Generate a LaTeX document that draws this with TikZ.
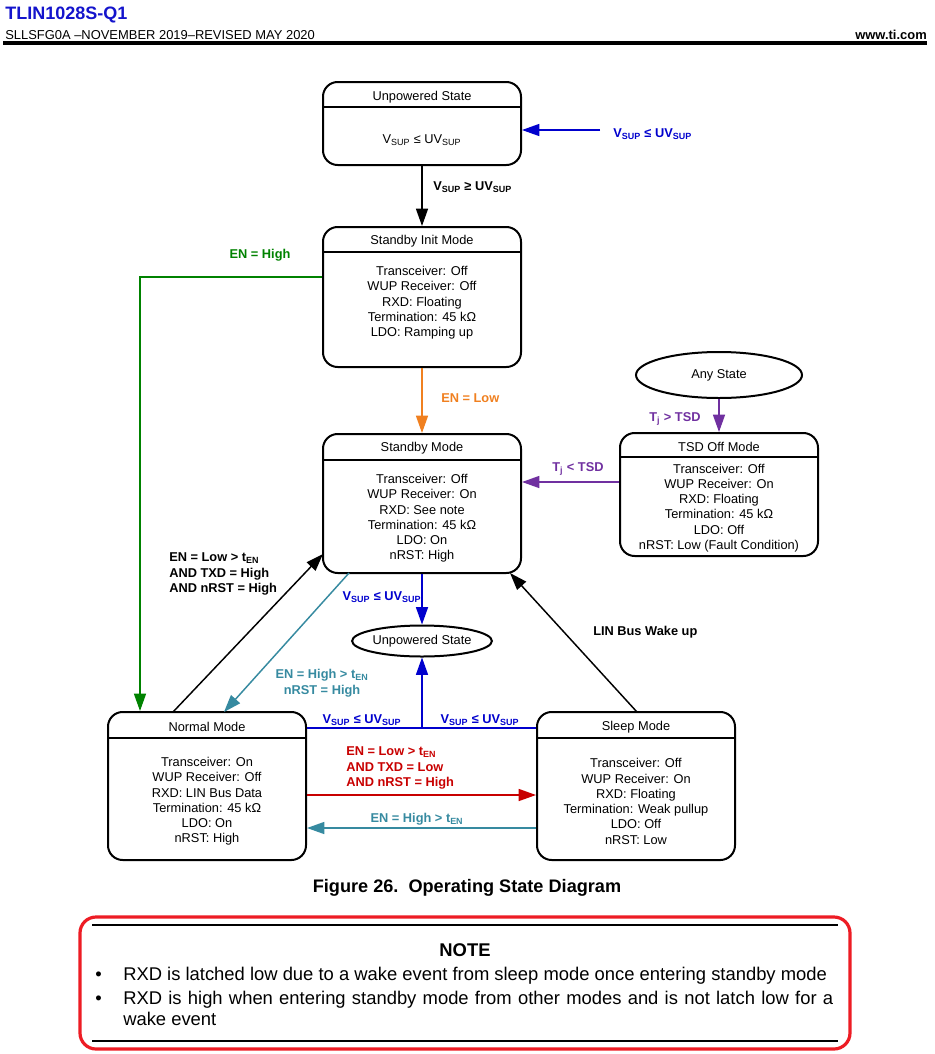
\documentclass[tikz,border=0pt]{standalone}
\usepackage{fontspec}
\setmainfont{Liberation Sans}
\usetikzlibrary{arrows.meta,shapes.geometric,calc}
\definecolor{tititle}{RGB}{20,20,204}
\definecolor{tiblue}{RGB}{0,0,205}
\definecolor{tiorange}{RGB}{240,128,32}
\definecolor{tigreen}{RGB}{0,130,0}
\definecolor{tipurple}{RGB}{112,48,160}
\definecolor{titeal}{RGB}{54,138,160}
\definecolor{tired}{RGB}{200,0,0}
\definecolor{notered}{RGB}{237,28,36}
\newcommand\sbs[1]{\textsubscript{#1}}
\begin{document}
\begin{tikzpicture}[x=0.75pt,y=-0.75pt,
  box/.style={draw, line width=1.5pt, rounded corners=11pt, inner sep=0pt, minimum width=148.5pt},
  sep/.style={line width=1.5pt},
  ttl/.style={font=\fontsize{9.6}{11.5}\selectfont, inner sep=0pt, yshift=-1.4pt},
  body/.style={font=\fontsize{9.6}{11.45}\selectfont, align=center, inner sep=0pt, yshift=-1.4pt},
  lbl/.style={font=\fontsize{9.6}{11.6}\selectfont\bfseries, inner sep=0pt, yshift=-0.8pt},
  ell/.style={draw, ellipse, line width=1.5pt, inner sep=0pt, font=\fontsize{9.6}{11.5}\selectfont},
  arr/.style={line width=1.1pt, -{Triangle[length=13pt,width=9pt]}},
  ln/.style={line width=1.1pt},
  notefont/.style={font=\fontsize{13.8}{15.75}\selectfont, inner sep=0pt}
]
\useasboundingbox (0,0) rectangle (935,1054);

% header
\node[anchor=base west, font=\fontsize{13.5}{16}\selectfont\bfseries, text=tititle, inner sep=0pt] (hdr) at (5,19) {TLIN1028S-Q1};
\node[anchor=base west, font=\fontsize{9.7}{12}\selectfont, inner sep=0pt] (doc) at (5,39) {SLLSFG0A –NOVEMBER 2019–REVISED MAY 2020};
\node[anchor=base east, font=\fontsize{9.7}{12}\selectfont\bfseries, inner sep=0pt] (www) at (927,39) {www.ti.com};
\draw[line width=2.4pt] (3,43) -- (927,43);

% Unpowered state (top)
\node[box, minimum height=62.25pt] (up1) at (422,123.5) {};
\draw[sep] (up1.west |- 0,107) -- (up1.east |- 0,107);
\node[ttl] (up1t) at (422,95) {Unpowered State};
\node[body] (up1b) at (422,138) {V\sbs{SUP} ≤ UV\sbs{SUP}};

% Standby init
\node[box, minimum height=105pt] (init) at (422,297) {};
\draw[sep] (init.west |- 0,252) -- (init.east |- 0,252);
\node[ttl] (initt) at (422,239) {Standby Init Mode};
\node[body] (initb) at (422,301) {Transceiver: Off\\WUP Receiver: Off\\RXD: Floating\\Termination: 45 kΩ\\LDO: Ramping up};

% Standby
\node[box, minimum height=104.25pt] (stby) at (422,503.5) {};
\draw[sep] (stby.west |- 0,460) -- (stby.east |- 0,460);
\node[ttl] (stbyt) at (422,446) {Standby Mode};
\node[body] (stbyb) at (422,516.5) {Transceiver: Off\\WUP Receiver: On\\RXD: See note\\Termination: 45 kΩ\\LDO: On\\nRST: High};

% TSD off
\node[box, minimum height=92.25pt] (tsd) at (719,494.5) {};
\draw[sep] (tsd.west |- 0,457) -- (tsd.east |- 0,457);
\node[ttl] (tsdt) at (719,445) {TSD Off Mode};
\node[body] (tsdb) at (719,506) {Transceiver: Off\\WUP Receiver: On\\RXD: Floating\\Termination: 45 kΩ\\LDO: Off\\nRST: Low (Fault Condition)};

% Any state
\node[ell, minimum width=124.5pt, minimum height=34.5pt] (any) at (719,375) {Any State};

% Unpowered ellipse
\node[ell, minimum width=99.75pt, minimum height=23.25pt] (up2) at (422,641) {Unpowered State};

% Normal
\node[box, minimum height=111pt] (normal) at (207,786) {};
\draw[sep] (normal.west |- 0,738) -- (normal.east |- 0,738);
\node[ttl] (normalt) at (207,725) {Normal Mode};
\node[body] (normalb) at (207,799.5) {Transceiver: On\\WUP Receiver: Off\\RXD: LIN Bus Data\\Termination: 45 kΩ\\LDO: On\\nRST: High};

% Sleep
\node[box, minimum height=111pt] (sleep) at (636,786) {};
\draw[sep] (sleep.west |- 0,738) -- (sleep.east |- 0,738);
\node[ttl] (sleept) at (636,725) {Sleep Mode};
\node[body] (sleepb) at (636,799.5) {Transceiver: Off\\WUP Receiver: On\\RXD: Floating\\Termination: Weak pullup\\LDO: Off\\nRST: Low};

% connectors
\draw[arr] (up1.south) -- (init.north);
\node[lbl, anchor=west] (l1) at (433,186) {V\sbs{SUP} ≥ UV\sbs{SUP}};

\coordinate (bsrc) at (600,130);
\draw[arr, tiblue] (bsrc) -- (up1.east |- bsrc);
\node[lbl, text=tiblue, anchor=west] (l2) at (613,133) {V\sbs{SUP} ≤ UV\sbs{SUP}};

\draw[arr, tiorange] (init.south) -- (stby.north);
\node[lbl, text=tiorange, anchor=west] (l3) at (441,397) {EN = Low};

\coordinate (gc) at (140,277);
\draw[arr, tigreen] (init.west |- gc) -- (gc) -- (normal.north -| gc);
\node[lbl, text=tigreen] (l4) at (260,254) {EN = High};

\draw[arr, tipurple] (any.south) -- (tsd.north);
\node[lbl, text=tipurple] (l5) at (675,418) {T\sbs{j} > TSD};

\coordinate (pc) at (620,482);
\draw[arr, tipurple] (tsd.west |- pc) -- (stby.east |- pc);
\node[lbl, text=tipurple] (l6) at (578,468) {T\sbs{j} < TSD};

\draw[arr, tiblue] (stby.south) -- (up2.north);
\node[lbl, text=tiblue] (l7) at (382,596) {V\sbs{SUP} ≤ UV\sbs{SUP}};

\coordinate (bl) at (422,728);
\draw[ln, tiblue] (normal.east |- bl) -- (sleep.west |- bl);
\draw[arr, tiblue] (bl) -- (up2.south);
\node[lbl, text=tiblue] (l8) at (362,719) {V\sbs{SUP} ≤ UV\sbs{SUP}};
\node[lbl, text=tiblue] (l9) at (480,719) {V\sbs{SUP} ≤ UV\sbs{SUP}};

\coordinate (rc) at (0,795);
\draw[arr, tired] (normal.east |- rc) -- (sleep.west |- rc);
\node[lbl, text=tired, align=left, anchor=west] (l10) at (346,767) {EN = Low > t\sbs{EN}\\AND TXD = Low\\AND nRST = High};

\coordinate (tc) at (0,828);
\draw[arr, titeal] (sleep.west |- tc) -- (normal.east |- tc);
\node[lbl, text=titeal] (l11) at (417,818) {EN = High > t\sbs{EN}};

\coordinate (n1) at (173,712);
\coordinate (n2) at (323,554);
\draw[arr] (n1) -- (n2);
\node[lbl, align=left, anchor=west] (l12) at (169,573) {EN = Low > t\sbs{EN}\\AND TXD = High\\AND nRST = High};

\coordinate (t1) at (349,573);
\coordinate (t2) at (224,712);
\draw[arr, titeal] (t1) -- (t2);
\node[lbl, text=titeal, align=center] (l13) at (322,682) {EN = High > t\sbs{EN}\\nRST = High};

\coordinate (s1) at (637,712);
\coordinate (s2) at (510,573);
\draw[arr] (s1) -- (s2);
\node[lbl, anchor=west] (l14) at (593,631) {LIN Bus Wake up};

% caption
\node[font=\fontsize{13.6}{16}\selectfont\bfseries, inner sep=0pt] (cap) at (467,888) {Figure 26.\ \ Operating State Diagram};

% note
\draw[notered, line width=2.4pt, rounded corners=12pt] (80,917) rectangle (850,1049);
\draw[line width=1.1pt] (92,925) -- (838,925);
\draw[line width=1.1pt] (92,1041) -- (838,1041);
\node[notefont, font=\fontsize{13.8}{15.75}\selectfont\bfseries] (note) at (465,950) {NOTE};
\node[notefont, anchor=base west] (b1) at (95,980) {•};
\node[notefont, anchor=base west] (i1) at (123,980) {RXD is latched low due to a wake event from sleep mode once entering standby mode};
\node[notefont, anchor=base west] (b2) at (95,1004) {•};
\node[notefont, anchor=base west] (i2) at (123,1004) {\makebox[532.5pt][s]{RXD is high when entering standby mode from other modes and is not latch low for a}};
\node[notefont, anchor=base west] (i3) at (123,1025) {wake event};
\end{tikzpicture}
\end{document}
